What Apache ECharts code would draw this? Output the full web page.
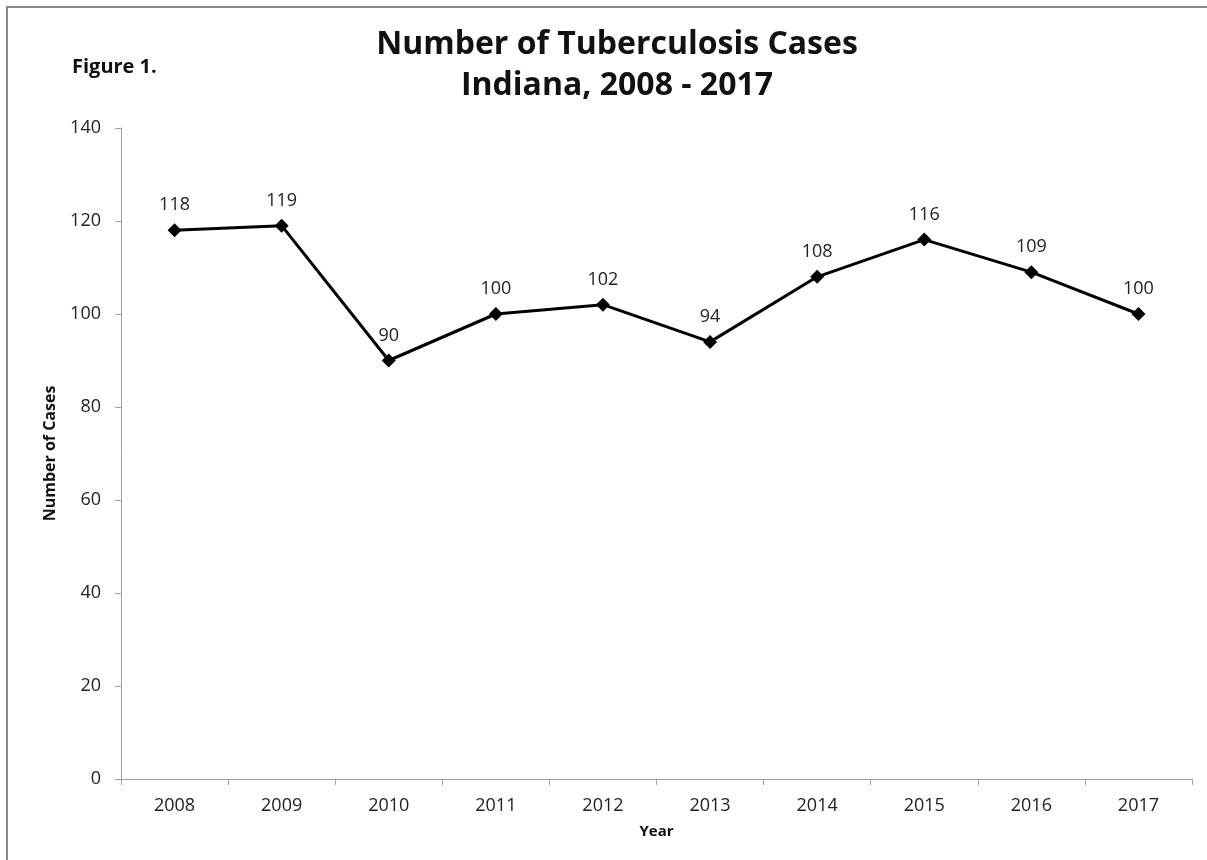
<!DOCTYPE html>
<html>
<head>
<meta charset="utf-8">
<script src="https://cdn.jsdelivr.net/npm/echarts@6/dist/echarts.min.js"></script>
<style>
html,body{margin:0;padding:0;background:#fff;}
#main{width:1207px;height:860px;}
</style>
</head>
<body>
<div id="main"></div>
<script>
var years = ['2008','2009','2010','2011','2012','2013','2014','2015','2016','2017'];
var cases = [118,119,90,100,102,94,108,116,109,100];
var yTicks = {min:0, max:140, interval:20};

var FONT = '"Open Sans", sans-serif';
var chart = echarts.init(document.getElementById('main'));
chart.setOption({
  backgroundColor:'#fff',
  animation:false,
  title:{
    text:'Number of Tuberculosis Cases\nIndiana, 2008 - 2017',
    left:612, top:19, textAlign:'center',
    textStyle:{fontFamily:FONT, fontWeight:'bold', fontSize:32, lineHeight:41, color:'#111'}
  },
  graphic:[
    {type:'rect', shape:{x:7,y:7,width:1400,height:1000}, style:{fill:null, stroke:'#8a8a8a', lineWidth:2}, silent:true},
    {type:'text', left:72, top:57, style:{text:'Figure 1.', font:'bold 20px "Open Sans", sans-serif', fill:'#111'}}
  ],
  grid:{left:121, right:15, top:128, bottom:81, containLabel:false},
  xAxis:{
    type:'category', data:years, boundaryGap:true,
    name:'Year', nameLocation:'middle', nameGap:45,
    nameTextStyle:{fontFamily:FONT, fontWeight:'bold', fontSize:15, color:'#111'},
    axisLine:{lineStyle:{color:'#a0a0a0', width:1}},
    axisTick:{show:true, length:6, lineStyle:{color:'#a0a0a0'}},
    axisLabel:{fontFamily:FONT, fontSize:18, color:'#222', margin:18},
    splitLine:{show:false}
  },
  yAxis:{
    type:'value', min:yTicks.min, max:yTicks.max, interval:yTicks.interval,
    name:'Number of Cases', nameLocation:'middle', nameGap:63, nameRotate:90,
    nameTextStyle:{fontFamily:FONT, fontWeight:'bold', fontSize:16, color:'#111'},
    axisLine:{show:true, lineStyle:{color:'#a0a0a0', width:1}},
    axisTick:{show:true, length:6, lineStyle:{color:'#a0a0a0'}},
    axisLabel:{fontFamily:FONT, fontSize:18, color:'#222', margin:20},
    splitLine:{show:false}
  },
  series:[{
    type:'line', data:cases,
    lineStyle:{color:'#000', width:3},
    itemStyle:{color:'#000'},
    symbol:'diamond', symbolSize:14,
    label:{show:true, position:'top', distance:9, fontFamily:FONT, fontSize:18, color:'#222'}
  }]
});
</script>
</body>
</html>
